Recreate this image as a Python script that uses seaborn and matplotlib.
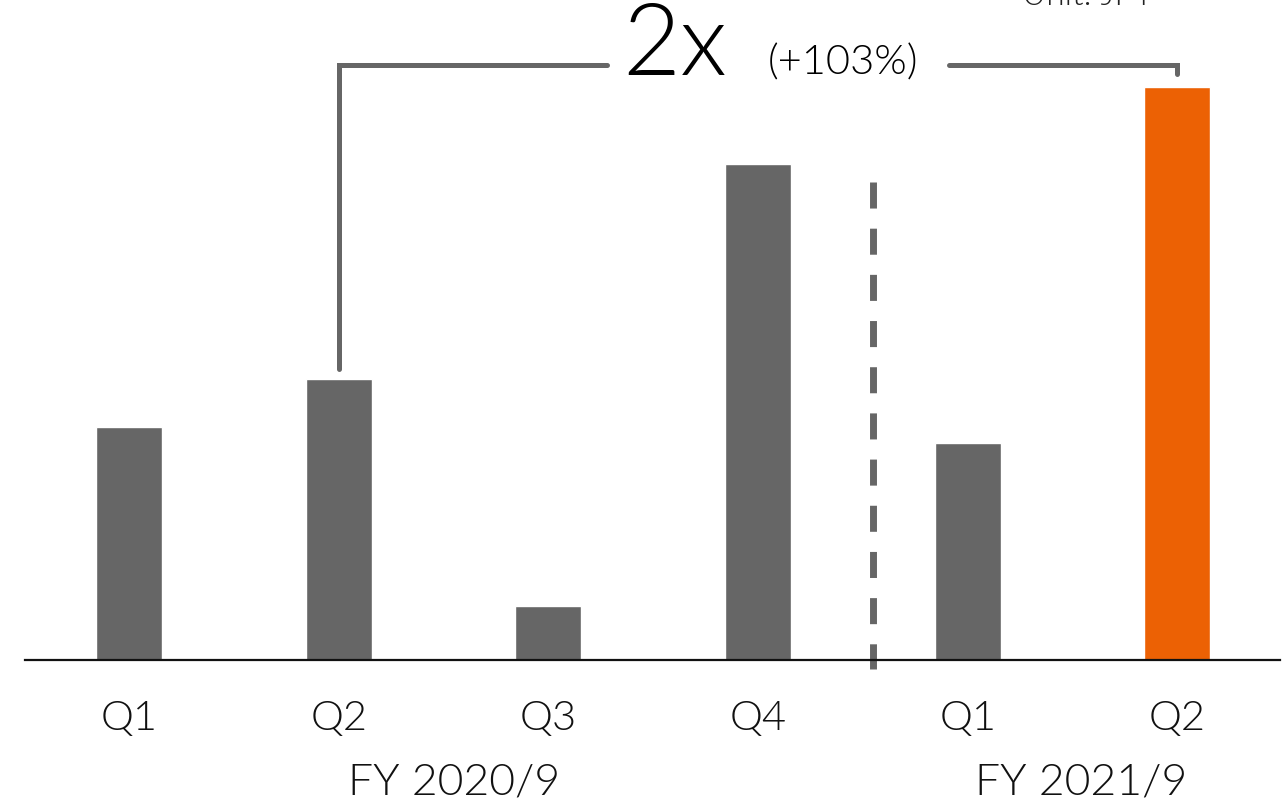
import matplotlib
matplotlib.use("Agg")
import matplotlib.pyplot as plt
import seaborn as sns
import pandas as pd

# data (arbitrary units)
quarters = ["Q1", "Q2", "Q3", "Q4", "Q1", "Q2"]
periods = ["2020Q1", "2020Q2", "2020Q3", "2020Q4", "2021Q1", "2021Q2"]
values = [233, 281, 54, 496, 217, 573]
years = ["FY 2020/9", "FY 2021/9"]
bar_colors = ["#666666"] * 5 + ["#EC6104"]
growth_big = "2x"
growth_small = "(+103%)"
unit_text = "Unit: JPY"

sns.set_style("white")
plt.rcParams["font.family"] = ["Lato", "DejaVu Sans"]
W = 300  # light weight

df = pd.DataFrame({"period": periods, "value": values})

fig = plt.figure(figsize=(12.87, 8.04), dpi=100)
ax = fig.add_axes([25 / 1287, 143 / 804, 1255 / 1287, 661 / 804])

sns.barplot(data=df, x="period", y="value", hue="period", palette=bar_colors,
            width=0.315, legend=False, ax=ax, saturation=1)

ax.set_xlim(-0.497, 5.49)
ax.set_ylim(0, 661)
ax.set_xticks(range(len(quarters)))
ax.set_xticklabels(quarters, fontsize=30, color="#111111", fontweight=W)
ax.tick_params(axis="x", length=0, pad=28)
ax.set_yticks([])
ax.set_xlabel("")
ax.set_ylabel("")
for s in ["top", "right", "left"]:
    ax.spines[s].set_visible(False)
ax.spines["bottom"].set_linewidth(1.6)
ax.spines["bottom"].set_color("#111111")

# dashed divider between the fiscal years
ax.plot([3.55, 3.55], [478, -9], color="#666666", lw=5, ls=(0, (3.75, 2.9)),
        clip_on=False, solid_capstyle="butt", dash_capstyle="butt")

# bracket from Q2 2020 to Q2 2021
gray = "#666666"
yb = 595
ax.plot([1, 1, 2.28], [291, yb, yb], color=gray, lw=3.6, clip_on=False,
        solid_joinstyle="miter")
ax.plot([3.91, 5, 5], [yb, yb, 586], color=gray, lw=3.6, clip_on=False,
        solid_joinstyle="miter")
ax.text(2.6, 614, growth_big, fontsize=72, ha="center", va="center", color="#000000",
        fontweight=W)
ax.text(3.405, 598, growth_small, fontsize=30, ha="center", va="center", color="#000000",
        fontweight=W)

# fiscal year labels
ax.text(1.55, -122, years[0], fontsize=32, ha="center", va="center", color="#111111",
        clip_on=False, fontweight=W)
ax.text(4.54, -122, years[1], fontsize=32, ha="center", va="center", color="#111111",
        clip_on=False, fontweight=W)

fig.text(1022 / 1287, 1 - 5 / 804, unit_text, fontsize=24, ha="left", va="baseline",
         color="#222222", fontweight=W)

fig.savefig("out.png", dpi=100)
